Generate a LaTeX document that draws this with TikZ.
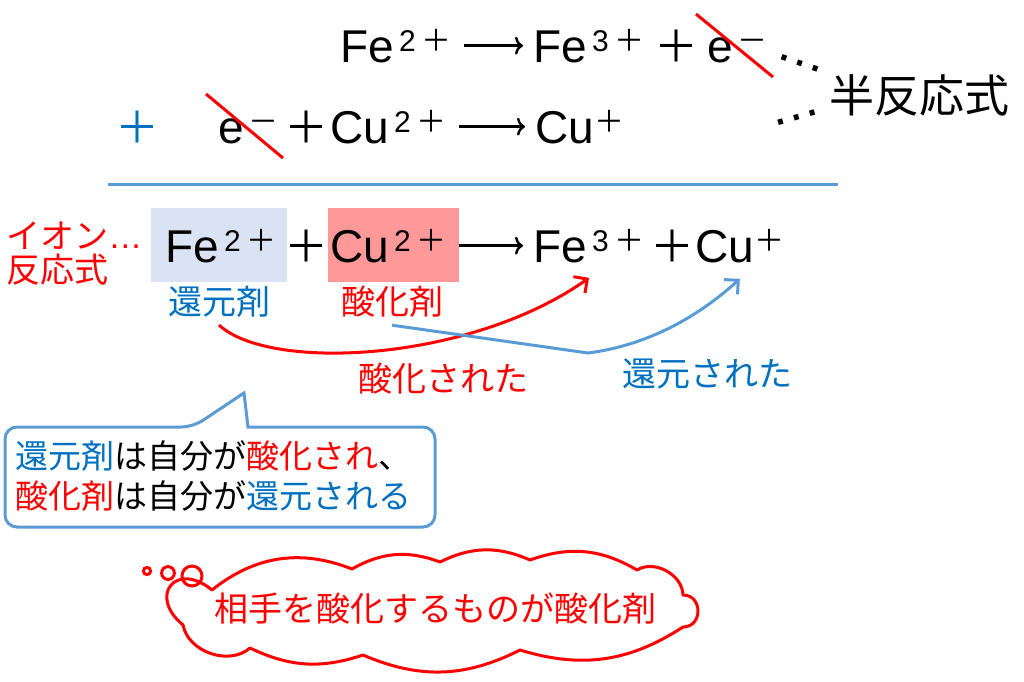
\documentclass[tikz,border=0pt]{standalone}
\usepackage{fontspec}
\setmainfont{Liberation Sans}
\newfontfamily\jp{Noto Sans CJK JP}
\usetikzlibrary{arrows.meta}

\definecolor{jblue}{HTML}{0070C0}
\definecolor{lblue}{HTML}{5B9BD5}
\definecolor{boxblue}{HTML}{DAE3F3}
\definecolor{boxred}{HTML}{FF9999}

% charge written up at cap height
\newcommand{\chg}[2]{\hspace{2.5pt}\raisebox{5.5pt}{\fontsize{15}{15}\selectfont #1{\jp #2}}}

\begin{document}
\begin{tikzpicture}[x=0.5pt, y=-0.5pt,
    chem/.style={inner sep=0pt, anchor=base west, font=\fontsize{23}{27}\selectfont},
    bigplus/.style={inner sep=0pt, anchor=base, font=\jp\fontsize{22}{26}\selectfont},
    react/.style={line width=1.2pt, -{To[length=4pt, width=9pt]}, shorten <=6pt, shorten >=5pt},
    jlabel/.style={inner sep=0pt, font=\jp\fontsize{17}{20}\selectfont},
    tendots/.style={inner sep=0pt, font=\fontsize{26}{30}\selectfont},
    strike/.style={red, line width=1.5pt},
    curvearrow/.style={line width=1.5pt, -{Straight Barb[length=5pt, width=10pt]}},
    cloudline/.style={red, line width=1.5pt, line cap=round}]
    \useasboundingbox (0,0) rectangle (1024,681);

    % half reactions
    \node[chem] (fe2a) at (340,62) {Fe\chg{2\hspace{3pt}}{＋}};
    \node[chem] (fe3a) at (533,62) {Fe\chg{3\hspace{3pt}}{＋}};
    \draw[react] (fe2a) -- (fe3a);
    \node[bigplus] (pl1) at (676,62) {＋};
    \node[chem] (el1) at (707,62) {e\chg{}{－}};
    \coordinate (s1a) at (696,14);
    \coordinate (s1b) at (773,77);
    \draw[strike] (s1a) -- (s1b);

    \node[bigplus, jblue] (bplus) at (137,143) {＋};
    \node[chem] (el2) at (218,143) {e\chg{}{－}};
    \coordinate (s2a) at (206,94);
    \coordinate (s2b) at (283,158);
    \draw[strike] (s2a) -- (s2b);
    \node[bigplus] (pl2) at (306,143) {＋};
    \node[chem] (cu2a) at (330,143) {Cu\chg{2\hspace{3pt}}{＋}};
    \node[chem] (cu1a) at (535,143) {Cu\chg{\hspace{-2.5pt}}{＋}};
    \draw[react] (cu2a) -- (cu1a);

    \node[tendots, rotate=-19] (dots1) at (800,63) {…};
    \node[tendots, rotate=16] (dots2) at (797,118) {…};
    \node[inner sep=0pt, font=\jp\fontsize{22.5}{26}\selectfont] (han) at (919,95) {半反応式};

    \draw[lblue, line width=1.5pt] (108,184) -- (838,184);

    % ionic equation
    \node[jlabel, red, anchor=west] (ion) at (6,236) {イオン\fontspec{Liberation Sans}…};
    \node[jlabel, red, anchor=west] (hannou) at (6,270) {反応式};
    \fill[boxblue] (151,208) rectangle (287,282);
    \fill[boxred] (328,208) rectangle (459,282);
    \node[chem] (fe2b) at (165,262) {Fe\chg{2\hspace{3pt}}{＋}};
    \node[bigplus] (pl3) at (306,262) {＋};
    \node[chem] (cu2b) at (330,262) {Cu\chg{2\hspace{3pt}}{＋}};
    \node[chem] (fe3b) at (533,262) {Fe\chg{3\hspace{3pt}}{＋}};
    \draw[react] (cu2b) -- (fe3b);
    \node[bigplus] (pl4) at (672,262) {＋};
    \node[chem] (cu1b) at (695,262) {Cu\chg{\hspace{-2.5pt}}{＋}};

    \node[jlabel, jblue] (kangen) at (219,302) {還元剤};
    \node[jlabel, red] (sanka) at (392,302) {酸化剤};

    \draw[curvearrow, red] ([yshift=-3.5pt]kangen.south) .. controls (270,372) and (470,362) .. ([yshift=-7.5pt]fe3b.south);
    \coordinate (bend) at (588,353);
    \draw[curvearrow, lblue] ([yshift=-3.5pt]sanka.south) -- (bend) .. controls (650,345) and (700,315) .. ([yshift=-8pt]cu1b.south);

    \node[jlabel, red] (sareta1) at (443,379) {酸化された};
    \node[jlabel, jblue] (sareta2) at (707,374) {還元された};

    % speech box
    \draw[lblue, fill=white, line width=1.5pt] (5,477) [rounded corners=6pt] |- (193,427) [sharp corners] -- (244,393) -- (248,427) [rounded corners=6pt] -| (435,477) |- (5,527) -- cycle;
    \node[inner sep=0pt, anchor=west, align=left, font=\jp\fontsize{16.5}{20}\selectfont] (rule) at (15,476)
        {{\color{jblue}還元剤}は自分が{\color{red}酸化され}、\\{\color{red}酸化剤}は自分が{\color{jblue}還元される}};

    % thought cloud
    \draw[red, line width=1.5pt] (147,571) circle[radius=1.8pt];
    \draw[red, line width=1.5pt] (168,573) circle[radius=3.2pt];
    \draw[red, line width=1.5pt] (192,576) circle[radius=5pt];
    \coordinate (k1) at (183,625);
    \coordinate (k2) at (212,590);
    \coordinate (k3) at (352,569);
    \coordinate (k4) at (440,562);
    \coordinate (k5) at (530,560);
    \coordinate (k6) at (637,570);
    \coordinate (k7) at (683,595);
    \coordinate (k8) at (683,627);
    \coordinate (k9) at (520,650);
    \coordinate (k10) at (363,655);
    \coordinate (k11) at (250,648);
    \foreach \p/\q/\ang/\lo in {k1/k2/90/2.6, k2/k3/30/1, k3/k4/25/1, k4/k5/25/1, k5/k6/25/1, k6/k7/60/1,
                                k7/k8/90/1.6, k8/k9/25/1, k9/k10/25/1, k10/k11/22/1, k11/k1/60/1}
        \draw[cloudline] (\p) to[bend left=\ang, looseness=\lo] (\q);
    \node[inner sep=0pt, red, font=\jp\fontsize{17}{20}\selectfont] (kumotext) at (435,609) {相手を酸化するものが酸化剤};
\end{tikzpicture}
\end{document}
